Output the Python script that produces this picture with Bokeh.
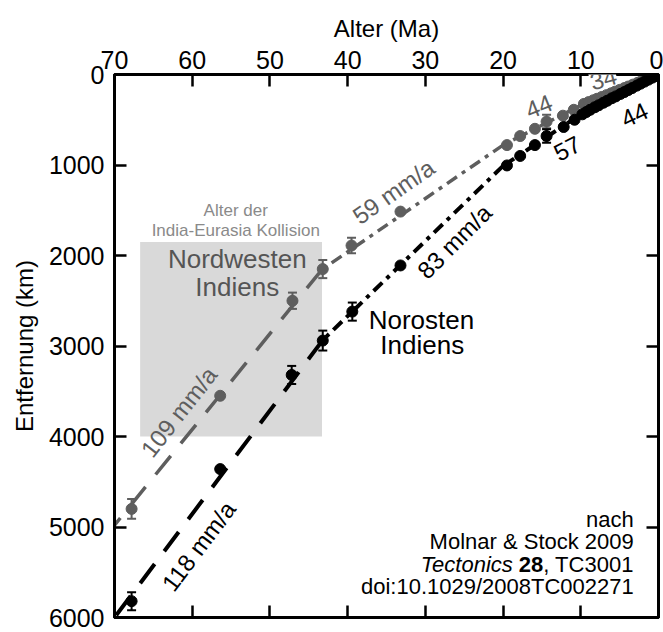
import math
from bokeh.plotting import figure
from bokeh.models import Range1d, LinearAxis, FixedTicker, Whisker, TeeHead, ColumnDataSource, Label
from bokeh.core.properties import value
from bokeh.embed import file_html
from bokeh.resources import INLINE

FONT = "Liberation Sans"
GRAY = "#5e5e5e"

# ---------------- data ----------------
x_ticks = [0, 10, 20, 30, 40, 50, 60, 70]
y_ticks = [0, 1000, 2000, 3000, 4000, 5000, 6000]

# Nordwesten Indiens (grey)
nw_age = [67.8, 56.4, 47.1, 43.2, 39.5, 33.2, 19.5, 17.8, 15.9, 14.4, 12.3, 10.9,
          9.6, 9.0, 8.4, 7.9, 7.3, 6.7, 6.1, 5.6, 5.0, 4.4, 3.9, 3.3, 2.7, 2.2, 1.7, 1.2, 0.7, 0.3]
nw_dist = [4800, 3550, 2500, 2150, 1890, 1515, 780, 680, 600, 520, 455, 390,
           325, 305, 285, 268, 248, 228, 208, 190, 170, 150, 133, 112, 92, 75, 58, 41, 24, 10]
nw_err_age = [67.8, 47.1, 43.2, 39.5, 14.4]
nw_err_dist = [4800, 2500, 2150, 1890, 520]
nw_err = [110, 90, 100, 85, 75]
nw_fit_age = [0, 10, 20, 43.3, 70]
nw_fit_dist = [0, 340, 780, 2155, 4980]

# Norosten Indiens (black)
ne_age = [67.8, 56.4, 47.2, 43.2, 39.4, 33.2, 19.5, 17.8, 15.9, 14.4, 12.2, 10.8,
          9.8, 9.3, 8.8, 8.2, 7.7, 7.1, 6.6, 6.0, 5.5, 4.9, 4.4, 3.9, 3.4, 2.8, 2.3, 1.8, 1.3, 0.8, 0.4]
ne_dist = [5820, 4360, 3320, 2940, 2620, 2110, 1005, 900, 780, 680, 580, 500,
           440, 415, 390, 362, 340, 312, 290, 262, 242, 215, 194, 172, 150, 123, 101, 79, 57, 35, 18]
ne_err_age = [67.8, 47.2, 43.2, 39.4, 14.4]
ne_err_dist = [5820, 3320, 2940, 2620, 680]
ne_err = [100, 100, 110, 100, 75]
ne_fit_age = [0, 10, 20, 43.2, 70]
ne_fit_dist = [0, 440, 1010, 2935, 6000]

# collision age box
box_age = [66.7, 43.3]
box_dist = [1850, 4000]

# rate labels
nw_rate_text = ["34", "44", "59 mm/a", "109 mm/a"]
nw_rate_age = [7.1, 15.4, 34.1, 61.7]
nw_rate_dist = [47, 352, 1295, 3729]
nw_rate_angle = [15, 22, 35, 52]
ne_rate_text = ["44", "57", "83 mm/a", "118 mm/a"]
ne_rate_age = [3.1, 11.75, 26.25, 59.15]
ne_rate_dist = [445, 816, 1846, 5212]
ne_rate_angle = [25, 27, 45, 53]

# ---------------- figure ----------------
p = figure(width=663, height=632, x_range=Range1d(70, 0), y_range=Range1d(6000, 0),
           x_axis_location="above", output_backend="svg", toolbar_location=None,
           min_border_left=114, min_border_right=5, min_border_top=74, min_border_bottom=15)
p.grid.visible = False
p.outline_line_color = "black"
p.outline_line_width = 3
p.background_fill_color = "white"
p.border_fill_color = "white"


def style_axis(ax, ticks, show_labels):
    ax.ticker = FixedTicker(ticks=ticks)
    ax.major_tick_in = 12
    ax.major_tick_out = 0
    ax.minor_tick_in = 0
    ax.minor_tick_out = 0
    ax.axis_line_width = 3
    ax.axis_line_color = "black"
    ax.major_tick_line_width = 2.5
    ax.major_tick_line_color = "black"
    ax.major_label_text_font = FONT
    ax.major_label_text_color = "black"
    ax.axis_label_text_font = FONT
    ax.axis_label_text_font_style = "normal"
    ax.axis_label_text_color = "black"
    ax.major_label_text_font_size = "25px"
    ax.axis_label_text_font_size = "24px"
    if not show_labels:
        ax.major_label_overrides = {t: "" for t in ticks}
        ax.major_label_standoff = 0


style_axis(p.xaxis[0], x_ticks, True)
p.xaxis[0].axis_label = "Alter (Ma)"
p.xaxis[0].major_label_standoff = 6
p.xaxis[0].axis_label_standoff = 6
style_axis(p.yaxis[0], y_ticks, True)
p.yaxis[0].axis_label = "Entfernung (km)"
p.yaxis[0].major_label_standoff = 10
p.yaxis[0].axis_label_standoff = 8

bottom = LinearAxis()
style_axis(bottom, x_ticks, False)
p.add_layout(bottom, "below")
right = LinearAxis()
style_axis(right, y_ticks, False)
p.add_layout(right, "right")

# collision box
p.quad(left=[box_age[0]], right=[box_age[1]], top=[box_dist[0]], bottom=[box_dist[1]],
       fill_color="#d9d9d9", line_color=None, level="underlay")

p.text(x=[54.4, 54.4], y=[1505, 1725], text=["Alter der", "India-Eurasia Kollision"],
       text_font=value(FONT), text_font_size="17px", text_color="#8a8a8a",
       text_align="center", text_baseline="middle")
p.text(x=[54.2, 54.2], y=[2044, 2344], text=["Nordwesten", "Indiens"],
       text_font=value(FONT), text_font_size="26px", text_color="#555555",
       text_align="center", text_baseline="middle")
p.text(x=[30.5, 30.4], y=[2714, 2989], text=["Norosten", "Indiens"],
       text_font=value(FONT), text_font_size="26px", text_color="black",
       text_align="center", text_baseline="middle")

# fit lines
dashes = ["solid", "6 4", "12 6 4 6", "24 16"]
for k, dash in enumerate(dashes):
    p.line(nw_fit_age[k:k + 2], nw_fit_dist[k:k + 2], line_color=GRAY, line_width=3.5, line_dash=dash)
    p.line(ne_fit_age[k:k + 2], ne_fit_dist[k:k + 2], line_color="black", line_width=4, line_dash=dash)

# points
p.scatter(nw_age, nw_dist, size=11, fill_color=GRAY, line_color=GRAY)
p.scatter(ne_age, ne_dist, size=11, fill_color="black", line_color="black")

# error bars
for ages, dists, errs, col in [(nw_err_age, nw_err_dist, nw_err, GRAY),
                               (ne_err_age, ne_err_dist, ne_err, "black")]:
    src = ColumnDataSource(dict(base=ages,
                                lo=[d - e for d, e in zip(dists, errs)],
                                hi=[d + e for d, e in zip(dists, errs)]))
    p.add_layout(Whisker(source=src, base="base", lower="lo", upper="hi", dimension="height",
                         line_color=col, line_width=2,
                         upper_head=TeeHead(size=9, line_color=col, line_width=2),
                         lower_head=TeeHead(size=9, line_color=col, line_width=2)))

# rate labels
for txt, a, d, ang in zip(nw_rate_text, nw_rate_age, nw_rate_dist, nw_rate_angle):
    if txt == "34":
        p.add_layout(Label(x=a, y=d, text=txt, angle=math.radians(ang), text_font=FONT,
                           text_font_size="24px", text_color=GRAY, text_align="center",
                           text_baseline="middle", background_fill_color="white"))
    else:
        p.text(x=[a], y=[d], text=[txt], angle=math.radians(ang), text_font=value(FONT),
               text_font_size="24px", text_color=GRAY, text_align="center", text_baseline="middle")
for txt, a, d, ang in zip(ne_rate_text, ne_rate_age, ne_rate_dist, ne_rate_angle):
    p.text(x=[a], y=[d], text=[txt], angle=math.radians(ang), text_font=value(FONT),
           text_font_size="24px", text_color="black", text_align="center", text_baseline="middle")

# citation
cx = 3.18
p.text(x=[cx, cx, cx], y=[4920, 5157, 5652], text=["nach", "Molnar & Stock 2009", "doi:10.1029/2008TC002271"],
       text_font=value(FONT), text_font_size="22px", text_color="black",
       text_align="right", text_baseline="middle")
p.text(x=[cx], y=[5414], text=[", TC3001"], text_font=value(FONT), text_font_size="22px",
       text_color="black", text_align="right", text_baseline="middle")
p.text(x=[cx], y=[5414], text=["28"], text_font=value(FONT), text_font_size="22px",
       text_font_style="bold", text_color="black", text_align="right", text_baseline="middle",
       x_offset=-90.5)
p.text(x=[cx], y=[5414], text=["Tectonics"], text_font=value(FONT), text_font_size="22px",
       text_font_style="italic", text_color="black", text_align="right", text_baseline="middle",
       x_offset=-121)

open("out.html", "w").write(file_html(p, INLINE))
